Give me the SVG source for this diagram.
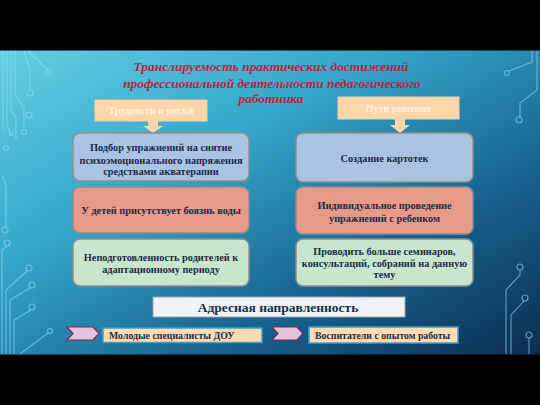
<svg xmlns="http://www.w3.org/2000/svg" width="540" height="405" viewBox="0 0 540 405">
<defs>
<linearGradient id="bg" x1="0" y1="0" x2="1" y2="1">
<stop offset="0" stop-color="#64cee4"/>
<stop offset="0.35" stop-color="#35a7ca"/>
<stop offset="0.68" stop-color="#186591"/>
<stop offset="1" stop-color="#0b2d50"/>
</linearGradient>
<style>
text{font-family:"Liberation Serif","Tinos","Times New Roman","DejaVu Serif",serif;font-weight:bold}
.title{font-style:italic;font-size:13.4px;fill:#c4203c;text-anchor:middle}
.hdr{fill:#fcd6a8;stroke:#f3cfa2;stroke-width:1}
.hdrt{font-size:10px;fill:#ffffff;fill-opacity:0.7;text-anchor:middle}
.box{stroke:#8d8d8d;stroke-width:1.5}
.blue{fill:#a9c4e3}
.red{fill:#e89a88}
.green{fill:#c9e5cd}
.bt{font-size:10.3px;fill:#1e2a46;text-anchor:middle}
.circ{fill:none;stroke:#8fdff2;stroke-opacity:0.6;stroke-width:1.1}
.chev{fill:#e6c2da;stroke:#7a2a58;stroke-width:1.2}
.small{fill:#fcdcb2;stroke:#35a3cf;stroke-width:1.5}
.st{font-size:9.8px;fill:#1e2a46}
</style>
</defs>
<rect width="540" height="405" fill="#000"/>
<rect x="0" y="50.5" width="540" height="304" fill="url(#bg)"/>
<g id="decor">
<path class="circ" d="M3 51 V130 M7 51 V125 L10 132 M11 51 V110 L16 118 V140 M15 51 V95 L24 108 V128 M24 51 L30 70 V90 M28 51 L48 70"/>
<circle class="circ" cx="48" cy="73" r="2.5"/>
<circle class="circ" cx="30" cy="93" r="3"/>
<circle class="circ" cx="29" cy="115" r="3"/>
<circle class="circ" cx="24" cy="132" r="2.5"/>
<circle class="circ" cx="11" cy="134" r="1.5"/>
<circle class="circ" cx="6" cy="148" r="2.5"/>
<path class="circ" d="M2 175 L6 185 V227 M2 354 V250 L7 246"/>
<circle class="circ" cx="5" cy="230" r="3"/>
<circle class="circ" cx="7" cy="243" r="3"/>
<path class="circ" d="M6 354 V290 L27 271 M10 354 V300 L30 288 M14 354 V320 L31 310 M20 354 L48 333"/>
<circle class="circ" cx="29" cy="268" r="3"/>
<circle class="circ" cx="32" cy="285" r="3"/>
<circle class="circ" cx="32" cy="307" r="3"/>
<circle class="circ" cx="50" cy="331" r="2.5"/>
<path class="circ" d="M532 51 V62 L509 71 M537 51 V90 L520 103 V117"/>
<circle class="circ" cx="507" cy="73" r="2.5"/>
<circle class="circ" cx="519" cy="120" r="3"/>
<path class="circ" d="M506 354 V290 L520 275 V270 M511 354 V315 L524 301 M529 354 V338"/>
<circle class="circ" cx="520" cy="267" r="3"/>
<circle class="circ" cx="525" cy="298" r="3"/>
<circle class="circ" cx="529" cy="335" r="3"/>
</g>
<g id="title">
<text class="title" x="271" y="71">Транслируемость практических достижений</text>
<text class="title" x="272" y="88">профессиональной деятельности педагогического</text>
<text class="title" x="271" y="103">работника</text>
</g>
<g id="hdr-left">
<rect class="hdr" x="95" y="100" width="112" height="21"/>
<text class="hdrt" x="151" y="114">Трудности и риски</text>
</g>
<g id="hdr-right">
<rect class="hdr" x="338" y="97" width="121" height="22"/>
<text class="hdrt" x="398.5" y="111.5">Пути решения</text>
</g>
<g id="connectors">
<path fill="#fcd6a8" d="M148 121 H158 V126 H163 L153 133 L143 126 H148 Z"/>
<path fill="#fcd6a8" d="M395 119 H405 V125 H410 L400 133 L390 125 H395 Z"/>
</g>
<g id="l1">
<rect class="box blue" x="73" y="133" width="176" height="48" rx="7"/>
<text class="bt" x="161" y="151">Подбор упражнений на снятие</text>
<text class="bt" x="161" y="163.5">психоэмоционального напряжения</text>
<text class="bt" x="161" y="175">средствами акватерапии</text>
</g>
<g id="l2">
<rect class="box red" x="73" y="187" width="176" height="46" rx="7"/>
<text class="bt" x="161" y="214">У детей присутствует боязнь воды</text>
</g>
<g id="l3">
<rect class="box green" x="73" y="239" width="176" height="47" rx="7"/>
<text class="bt" x="161" y="261">Неподготовленность родителей к</text>
<text class="bt" x="161" y="273">адаптационному периоду</text>
</g>
<g id="r1">
<rect class="box blue" x="296" y="133" width="177" height="49" rx="7"/>
<text class="bt" x="384.5" y="162">Создание картотек</text>
</g>
<g id="r2">
<rect class="box red" x="296" y="187" width="177" height="47" rx="7"/>
<text class="bt" x="384.5" y="209">Индивидуальное проведение</text>
<text class="bt" x="384.5" y="222">упражнений с ребенком</text>
</g>
<g id="r3">
<rect class="box green" x="296" y="239" width="177" height="47" rx="7"/>
<text class="bt" x="384.5" y="255">Проводить больше семинаров,</text>
<text class="bt" x="384.5" y="267">консультаций, собраний на данную</text>
<text class="bt" x="384.5" y="278">тему</text>
</g>
<g id="address">
<rect x="153" y="297" width="252" height="20" fill="#eef3f7" stroke="#9aa3ab" stroke-width="1"/>
<text x="278" y="311.5" font-size="13.5px" fill="#1e2a46" text-anchor="middle">Адресная направленность</text>
</g>
<g id="young">
<path class="chev" d="M67 327 H93 L99 333.5 L93 340 H67 L73 333.5 Z"/>
<rect class="small" x="103" y="328" width="159" height="14.5"/>
<text class="st" x="109" y="338.5">Молодые специалисты ДОУ</text>
</g>
<g id="experienced">
<path class="chev" d="M272 327 H297 L303 333.5 L297 340 H272 L278 333.5 Z"/>
<rect class="small" x="309" y="327" width="149" height="16"/>
<text class="st" x="315" y="338.5">Воспитатели с опытом работы</text>
</g>
</svg>
